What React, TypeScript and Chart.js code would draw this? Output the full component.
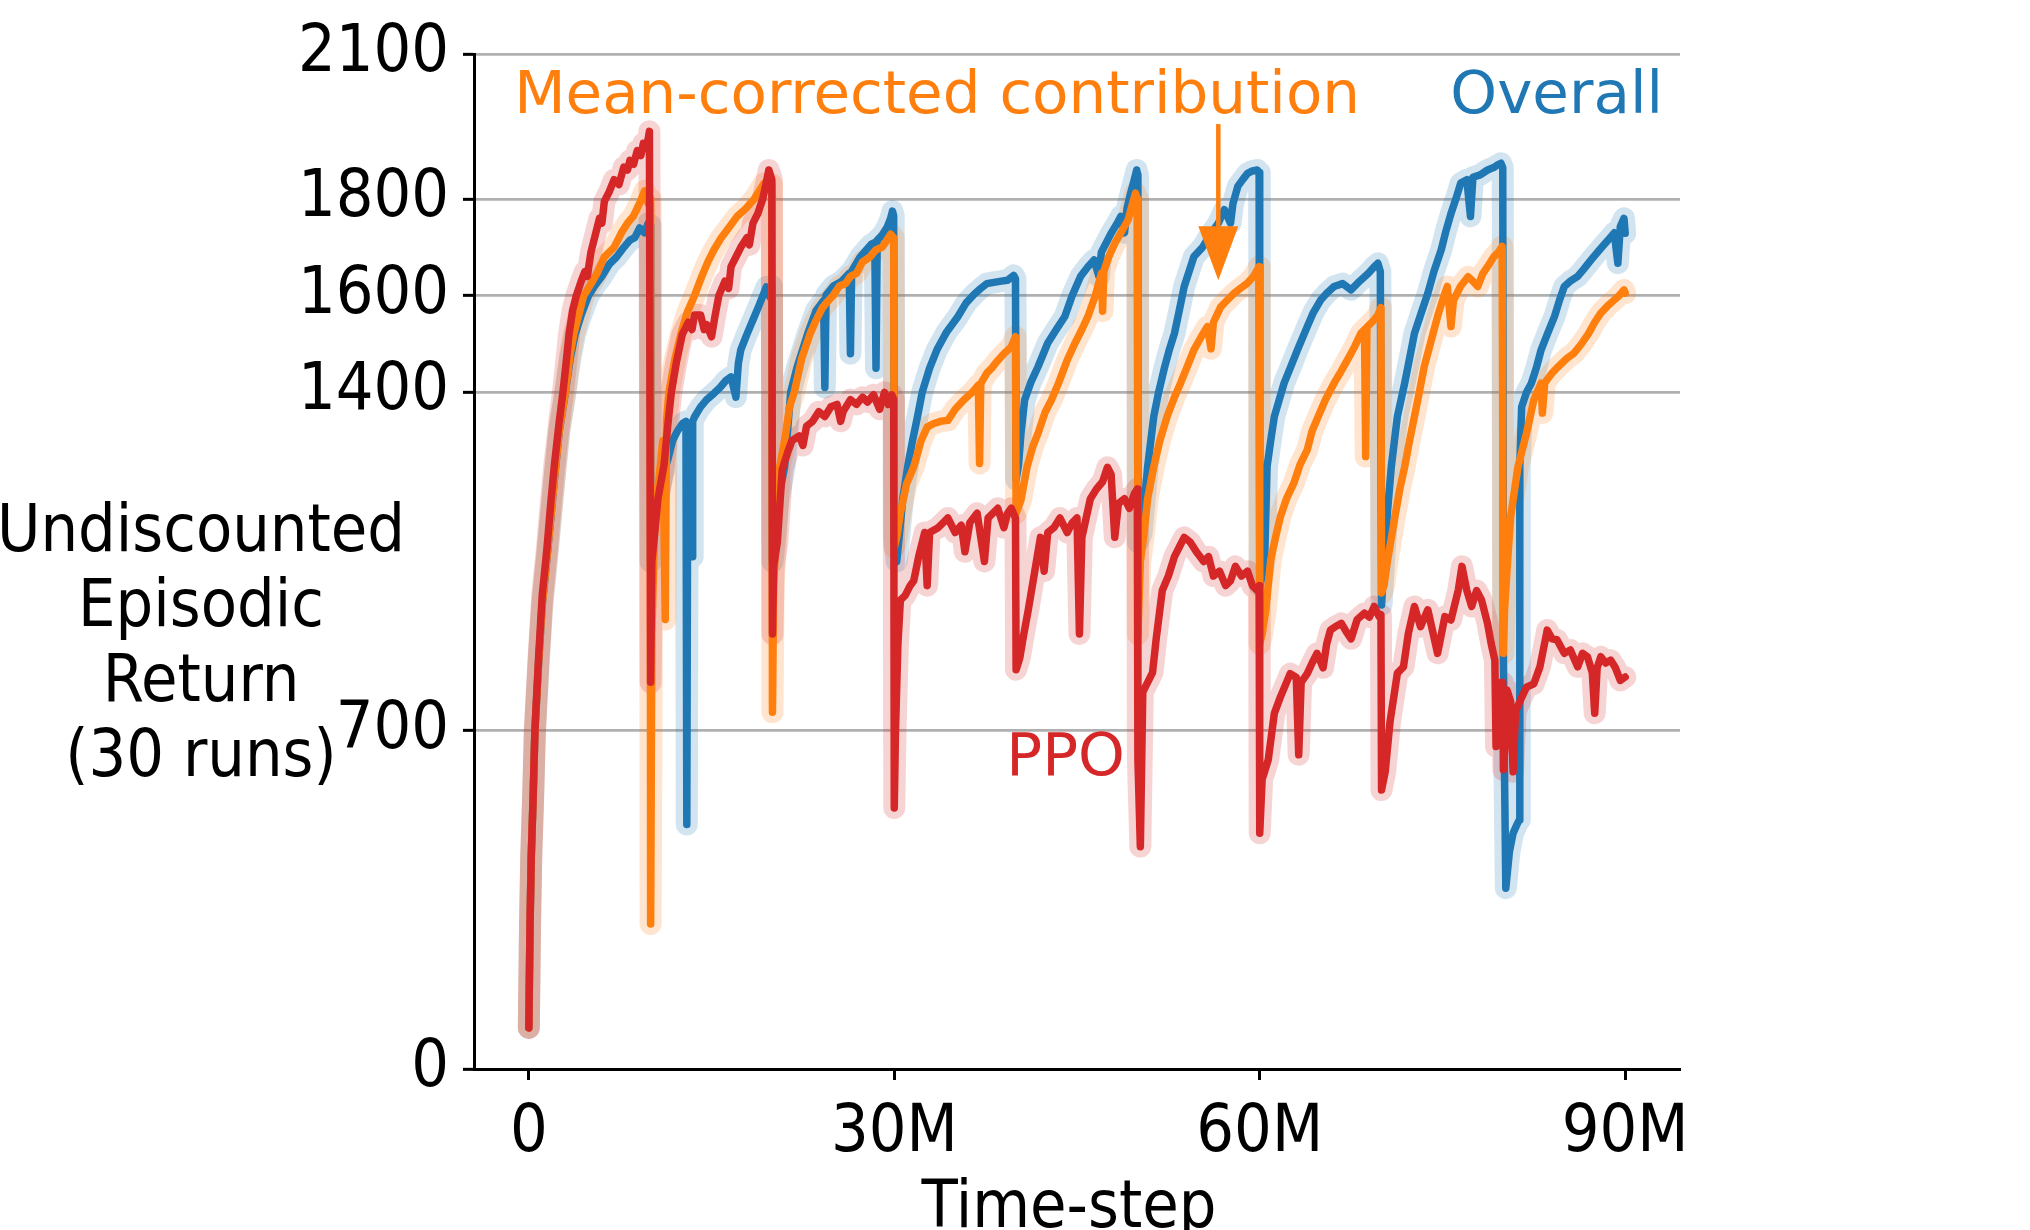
import { useEffect, useRef } from 'react'
import Chart from 'chart.js/auto'

// [time-step in millions, undiscounted episodic return]
const overallReturn: [number, number][] = [
  [0,85],[0.1,300],[0.2,440],[0.35,560],[0.5,700],[0.8,840],[1.1,960],[1.5,1060],[2.1,1220],[2.5,1320],[3.0,1400],[3.4,1470],[3.8,1520],[4.3,1560],[4.9,1600],[5.4,1620],[6.0,1640],[6.6,1665],[7.2,1680],[7.8,1700],[8.3,1715],[8.7,1720],[9.1,1740],[9.5,1730],[9.8,1750],[9.95,1745],
  [10.0,1050],[10.3,1120],[10.6,1180],[11.0,1230],[11.4,1260],[11.8,1300],[12.2,1320],[12.6,1335],[12.9,1340],[12.97,506],[13.05,1330],[13.35,1320],[13.4,1060],[13.45,1340],[13.6,1349],[14.1,1370],[14.6,1385],[15.2,1398],[15.7,1410],[16.2,1425],[16.6,1432],[17.0,1390],[17.2,1460],[17.4,1488],[17.9,1520],[18.5,1556],[18.9,1580],[19.5,1618],[19.8,1597],[19.95,1620],
  [20.0,1050],[20.2,1100],[20.5,1180],[21.0,1246],[21.5,1401],[22.0,1450],[22.9,1522],[23.6,1570],[24.2,1590],[24.3,1410],[24.4,1601],[25.0,1620],[25.7,1630],[26.3,1646],[26.4,1480],[26.5,1650],[27.2,1680],[28.1,1706],[28.4,1710],[28.5,1450],[28.6,1715],[29.0,1725],[29.4,1741],[29.7,1760],[29.85,1775],[29.95,1765],
  [30.0,1100],[30.2,1050],[30.4,1100],[30.7,1180],[31.1,1246],[31.5,1300],[31.9,1349],[32.3,1401],[32.9,1450],[33.5,1488],[34.3,1525],[35.2,1556],[35.9,1585],[36.6,1604],[37.1,1615],[37.6,1625],[38.3,1628],[38.8,1630],[39.3,1632],[39.8,1642],[39.95,1635],
  [40.0,1220],[40.2,1250],[40.4,1315],[40.7,1384],[41.2,1420],[41.8,1453],[42.6,1502],[43.3,1530],[44.0,1557],[44.6,1600],[45.3,1640],[45.9,1660],[46.4,1674],[46.8,1640],[47.0,1690],[47.8,1729],[48.3,1750],[48.6,1764],[48.9,1730],[49.1,1780],[49.4,1812],[49.7,1840],[49.9,1860],[49.97,1850],
  [50.0,1090],[50.3,1108],[50.8,1246],[51.3,1350],[51.7,1400],[52.2,1453],[52.6,1490],[53.0,1522],[53.4,1570],[53.8,1619],[54.2,1650],[54.6,1681],[55.3,1700],[56.0,1729],[56.6,1750],[57.1,1778],[57.6,1750],[57.8,1790],[58.2,1826],[58.6,1840],[59.0,1853],[59.4,1858],[59.8,1860],[59.95,1855],
  [60.0,1000],[60.2,1020],[60.4,1053],[60.6,1246],[60.9,1300],[61.2,1350],[62.0,1419],[62.5,1450],[63.1,1488],[63.9,1536],[64.4,1565],[65.0,1591],[65.5,1605],[66.1,1619],[66.8,1625],[67.5,1612],[68.2,1630],[68.9,1646],[69.4,1660],[69.7,1667],[69.9,1650],
  [70.0,960],[70.2,1050],[70.5,1157],[70.8,1246],[71.3,1350],[71.9,1419],[72.3,1470],[72.7,1522],[73.2,1560],[73.8,1605],[74.3,1650],[74.9,1695],[75.3,1735],[75.7,1770],[76.1,1800],[76.5,1833],[77.0,1840],[77.3,1764],[77.5,1845],[78.1,1850],[78.7,1860],[79.2,1865],[79.5,1870],[79.8,1874],[79.95,1865],
  [80.0,860],[80.1,600],[80.2,374],[80.5,450],[80.8,488],[81.1,505],[81.3,515],[81.35,1250],[81.5,1370],[81.9,1400],[82.3,1419],[82.7,1450],[83.1,1488],[83.6,1520],[84.2,1557],[84.6,1590],[85.0,1619],[85.5,1630],[86.1,1640],[86.6,1655],[87.2,1674],[87.9,1695],[88.6,1715],[89.1,1730],[89.4,1667],[89.6,1743],[89.9,1760],[90.0,1729],
]

const contributionReturn: [number, number][] = [
  [0,85],[0.1,300],[0.2,440],[0.35,560],[0.5,700],[0.8,840],[1.1,960],[1.5,1060],[2.1,1220],[2.5,1320],[3.0,1400],[3.4,1480],[3.7,1522],[4.1,1560],[4.5,1600],[5.0,1620],[5.6,1646],[6.2,1680],[7.0,1700],[7.6,1730],[8.1,1750],[8.6,1765],[9.2,1797],[9.5,1817],[9.8,1790],[9.95,1800],
  [10.0,300],[10.1,900],[10.3,1100],[10.6,1200],[11.0,1300],[11.2,930],[11.3,1340],[11.5,1400],[12.0,1470],[12.5,1522],[13.0,1565],[13.6,1600],[14.2,1640],[14.7,1670],[15.2,1695],[15.8,1720],[16.4,1740],[17.1,1764],[17.8,1780],[18.5,1800],[19.0,1820],[19.3,1832],[19.7,1820],[19.95,1830],
  [20.0,738],[20.1,1000],[20.3,1109],[20.6,1247],[21.0,1300],[21.4,1370],[21.8,1401],[22.4,1470],[23.1,1522],[23.6,1550],[24.1,1575],[24.6,1590],[25.0,1601],[25.5,1620],[26.0,1625],[26.4,1640],[26.9,1646],[27.4,1670],[28.0,1680],[28.5,1695],[29.0,1700],[29.4,1715],[29.7,1727],[29.95,1720],
  [30.0,1080],[30.2,1100],[30.5,1150],[31.0,1210],[31.6,1246],[32.2,1300],[32.7,1328],[33.2,1335],[33.8,1340],[34.4,1342],[35.0,1365],[35.7,1384],[36.4,1400],[36.9,1415],[37.0,1253],[37.1,1418],[37.6,1440],[38.0,1450],[38.5,1466],[39.0,1480],[39.6,1494],[39.95,1515],
  [40.0,1150],[40.4,1177],[40.9,1246],[41.4,1290],[41.8,1315],[42.4,1360],[42.9,1384],[43.5,1420],[44.2,1467],[44.8,1500],[45.4,1530],[45.9,1557],[46.5,1600],[47.0,1646],[47.1,1568],[47.2,1650],[47.6,1680],[48.1,1708],[48.6,1730],[49.2,1757],[49.5,1785],[49.8,1812],[49.95,1800],
  [50.0,900],[50.2,1050],[50.5,1108],[50.8,1180],[51.3,1246],[51.8,1300],[52.4,1350],[53.0,1390],[53.5,1419],[54.0,1450],[54.6,1488],[55.2,1515],[55.7,1536],[56.0,1490],[56.2,1545],[56.8,1577],[57.3,1590],[57.9,1605],[58.4,1615],[59.0,1626],[59.5,1640],[59.95,1660],
  [60.0,880],[60.2,900],[60.5,950],[60.9,1053],[61.3,1100],[61.7,1143],[62.2,1180],[62.8,1212],[63.3,1250],[63.9,1281],[64.3,1320],[64.8,1350],[65.4,1385],[66.1,1419],[66.6,1440],[67.2,1467],[67.8,1495],[68.3,1522],[68.6,1530],[68.7,1267],[68.8,1535],[69.4,1550],[69.7,1560],[69.95,1575],
  [70.0,985],[70.2,1000],[70.5,1053],[71.1,1143],[71.5,1200],[71.9,1246],[72.3,1300],[72.7,1350],[73.1,1400],[73.5,1453],[74.0,1500],[74.6,1557],[75.0,1590],[75.4,1619],[75.7,1536],[75.9,1590],[76.5,1620],[77.1,1639],[77.5,1630],[77.9,1619],[78.3,1645],[78.7,1660],[79.2,1680],[79.6,1690],[79.9,1702],
  [80.0,860],[80.1,950],[80.35,1053],[80.6,1143],[81.2,1246],[81.9,1315],[82.5,1384],[83.1,1419],[83.2,1357],[83.4,1420],[84.0,1440],[84.5,1453],[85.2,1470],[85.8,1481],[86.4,1500],[87.0,1522],[87.5,1545],[88.0,1564],[88.6,1580],[89.1,1591],[89.5,1600],[89.9,1612],[90.0,1605],
]

const ppoReturn: [number, number][] = [
  [0,85],[0.1,300],[0.2,440],[0.35,560],[0.5,700],[0.8,850],[1.1,980],[1.5,1080],[1.8,1170],[2.1,1250],[2.5,1340],[2.8,1400],[3.1,1470],[3.3,1520],[3.6,1570],[3.9,1600],[4.3,1630],[4.6,1650],[4.8,1640],[5.1,1690],[5.5,1730],[5.8,1760],[6.0,1750],[6.2,1795],[6.6,1815],[7.0,1840],[7.4,1830],[7.8,1866],[8.1,1860],[8.3,1880],[8.6,1872],[8.9,1900],[9.2,1890],[9.4,1915],[9.6,1905],[9.8,1925],[9.9,1940],
  [10.0,800],[10.1,1050],[10.3,1100],[10.6,1180],[11.1,1250],[11.4,1330],[11.7,1400],[12.1,1460],[12.6,1520],[13.1,1545],[13.4,1530],[13.6,1560],[14.1,1560],[14.4,1530],[14.6,1540],[15.0,1515],[15.3,1560],[15.6,1600],[16.1,1630],[16.4,1615],[16.6,1660],[17.0,1680],[17.4,1700],[17.9,1720],[18.1,1705],[18.4,1750],[18.8,1770],[19.2,1800],[19.5,1835],[19.7,1860],[19.95,1840],
  [20.0,900],[20.1,1040],[20.4,1090],[20.8,1240],[21.3,1280],[21.6,1300],[22.2,1310],[22.5,1290],[22.8,1330],[23.3,1340],[23.8,1360],[24.3,1350],[24.8,1370],[25.3,1375],[25.6,1340],[25.8,1360],[26.4,1385],[26.9,1375],[27.4,1390],[27.8,1380],[28.3,1395],[28.8,1365],[29.2,1400],[29.5,1375],[29.8,1395],[29.95,1385],
  [30.0,540],[30.1,700],[30.3,880],[30.5,970],[30.9,980],[31.3,1000],[31.6,1010],[32.0,1060],[32.5,1110],[32.7,1000],[32.9,1110],[33.6,1120],[34.0,1130],[34.4,1140],[35.0,1110],[35.5,1125],[35.8,1070],[36.2,1130],[36.8,1150],[37.1,1100],[37.4,1050],[37.7,1140],[38.1,1150],[38.5,1160],[39.0,1120],[39.3,1150],[39.6,1160],[39.95,1140],
  [40.0,826],[40.3,850],[40.6,895],[41.0,950],[41.4,1010],[42.0,1100],[42.3,1030],[42.6,1110],[43.1,1120],[43.6,1140],[44.2,1110],[44.6,1130],[45.0,1140],[45.2,900],[45.4,1100],[46.1,1180],[46.6,1200],[47.1,1215],[47.5,1245],[47.8,1230],[48.1,1100],[48.4,1170],[48.9,1180],[49.3,1160],[49.7,1190],[49.95,1200],
  [50.0,640],[50.2,460],[50.4,780],[50.8,800],[51.2,820],[51.5,890],[52.0,990],[52.5,1020],[53.0,1060],[53.4,1080],[53.8,1100],[54.3,1090],[54.8,1070],[55.4,1050],[55.8,1060],[56.2,1020],[56.7,1030],[57.2,1000],[57.6,1010],[58.0,1040],[58.5,1020],[59.0,1030],[59.4,1000],[59.8,990],[59.95,1000],
  [60.0,488],[60.2,600],[60.4,615],[60.7,640],[61.2,736],[61.7,770],[62.2,800],[62.5,818],[63.0,810],[63.2,650],[63.4,800],[63.9,818],[64.3,840],[64.7,860],[65.2,830],[65.5,880],[65.8,908],[66.2,915],[66.7,922],[67.1,905],[67.5,890],[68.0,930],[68.6,943],[69.0,935],[69.4,957],[69.8,936],[69.95,940],
  [70.0,577],[70.3,615],[70.7,719],[71.3,819],[71.8,832],[72.2,901],[72.7,957],[73.2,915],[73.8,950],[74.2,905],[74.6,860],[75.2,936],[75.7,929],[76.3,991],[76.6,1040],[77.0,990],[77.4,957],[77.8,990],[78.2,971],[78.7,922],[79.0,880],[79.3,846],[79.4,667],[79.6,800],[79.8,784],[79.95,800],
  [80.0,619],[80.2,700],[80.3,784],[80.6,760],[80.8,615],[81.0,740],[81.4,763],[81.9,790],[82.5,797],[83.0,832],[83.6,908],[84.0,890],[84.4,888],[85.0,860],[85.5,867],[86.1,832],[86.5,860],[86.9,853],[87.3,820],[87.5,736],[87.7,830],[88.0,853],[88.4,840],[88.8,846],[89.2,830],[89.6,804],[90.0,811],
]

const xTicks = [0, 30, 60, 90]
const xTickLabels = ['0', '30M', '60M', '90M']
const yTicks = [0, 700, 1400, 1600, 1800, 2100]
const yLabelLines = ['Undiscounted', 'Episodic', 'Return', '(30 runs)']

const W = 2030
const H = 1230
const BLUE = '#1f77b4'
const ORANGE = '#ff7f0e'
const RED = '#d62728'
const CONDENSED = '"DejaVu Sans Condensed", "DejaVu Sans", sans-serif'
const REGULAR = '"DejaVu Sans", sans-serif'

const toXY = (pts: [number, number][]) => pts.map(([x, y]) => ({ x, y }))

const line = (label: string, pts: [number, number][], color: string, order: number) => ({
  label, data: toXY(pts), borderColor: color, borderWidth: 7.5, pointRadius: 0,
  tension: 0, fill: false, borderJoinStyle: 'round', borderCapStyle: 'round', order,
})
const band = (pts: [number, number][], color: string, order: number) => ({
  label: 'band', data: toXY(pts), borderColor: color, borderWidth: 22, pointRadius: 0,
  tension: 0, fill: false, borderJoinStyle: 'round', borderCapStyle: 'round', order,
})

const textPlugin = {
  id: 'annotations',
  afterDatasetsDraw(chart: any) {
    const { ctx, scales: { x, y } } = chart
    ctx.save()
    ctx.font = `59.5px ${REGULAR}`
    ctx.textBaseline = 'alphabetic'
    ctx.textAlign = 'left'
    ctx.fillStyle = ORANGE
    ctx.fillText('Mean-corrected contribution', x.getPixelForValue(-1.2), y.getPixelForValue(1978))
    ctx.textAlign = 'right'
    ctx.fillStyle = BLUE
    ctx.fillText('Overall', x.getPixelForValue(93.1), y.getPixelForValue(1978))
    ctx.textAlign = 'left'
    ctx.fillStyle = RED
    ctx.fillText('PPO', x.getPixelForValue(39.2), y.getPixelForValue(608))

    // arrow pointing at the contribution curve
    const ax = x.getPixelForValue(56.6)
    const tail = y.getPixelForValue(1955)
    const tip = y.getPixelForValue(1632)
    ctx.strokeStyle = ORANGE
    ctx.fillStyle = ORANGE
    ctx.lineWidth = 4.5
    ctx.beginPath()
    ctx.moveTo(ax, tail)
    ctx.lineTo(ax, tip - 40)
    ctx.stroke()
    ctx.beginPath()
    ctx.moveTo(ax - 20, tip - 54)
    ctx.lineTo(ax + 20, tip - 54)
    ctx.lineTo(ax, tip)
    ctx.closePath()
    ctx.fill()
    ctx.restore()
  },
  afterDraw(chart: any) {
    const { ctx } = chart
    ctx.save()
    ctx.font = `66px ${CONDENSED}`
    ctx.fillStyle = '#000'
    ctx.textAlign = 'center'
    ctx.textBaseline = 'alphabetic'
    yLabelLines.forEach((t, i) => ctx.fillText(t, 201, 551 + i * 75))
    ctx.fillText('Time-step', (chart.chartArea.left + chart.chartArea.right) / 2 - 8, 1227)
    ctx.restore()
  },
}

export default function App() {
  const ref = useRef<HTMLCanvasElement | null>(null)
  useEffect(() => {
    document.body.style.margin = '0'
    document.body.style.overflow = 'hidden'
    if (!ref.current) return
    const chart = new Chart(ref.current, {
      type: 'line',
      data: {
        datasets: [
          line('PPO', ppoReturn, RED, 0),
          line('Mean-corrected contribution', contributionReturn, ORANGE, 1),
          line('Overall', overallReturn, BLUE, 2),
          band(ppoReturn, 'rgba(214,39,40,0.2)', 3),
          band(contributionReturn, 'rgba(255,127,14,0.2)', 4),
          band(overallReturn, 'rgba(31,119,180,0.2)', 5),
        ] as any,
      },
      options: {
        animation: false,
        responsive: true,
        maintainAspectRatio: false,
        devicePixelRatio: 1,
        layout: { padding: { left: 0, right: 350, top: 54, bottom: 0 } },
        plugins: { legend: { display: false }, tooltip: { enabled: false } },
        scales: {
          x: {
            type: 'linear', min: -4.5, max: 94.5,
            afterBuildTicks: (s: any) => { s.ticks = xTicks.map(v => ({ value: v })) },
            afterFit: (s: any) => { s.height = 161 },
            ticks: {
              autoSkip: false, maxRotation: 0, padding: 14, color: '#000',
              font: { family: CONDENSED, size: 66 },
              callback: (v: any) => xTickLabels[xTicks.indexOf(Number(v))] ?? '',
            },
            grid: { drawOnChartArea: false, drawTicks: true, tickLength: 11, tickWidth: 3, tickColor: '#000' },
            border: { display: true, color: '#000', width: 3 },
          },
          y: {
            min: 0, max: 2100,
            afterBuildTicks: (s: any) => { s.ticks = yTicks.map(v => ({ value: v })) },
            afterFit: (s: any) => { s.width = 474 },
            ticks: {
              autoSkip: false, padding: 14, color: '#000',
              font: { family: CONDENSED, size: 66 },
              callback: (v: any) => String(v),
            },
            grid: {
              color: (c: any) => (c.tick && c.tick.value === 0 ? 'rgba(0,0,0,0)' : '#b0b0b0'),
              lineWidth: 2.7, drawTicks: true, tickLength: 11, tickWidth: 3, tickColor: '#000',
            },
            border: { display: true, color: '#000', width: 3 },
          },
        },
      },
      plugins: [textPlugin],
    })
    return () => chart.destroy()
  }, [])
  return (
    <div style={{ width: W, height: H, position: 'relative', background: '#fff' }}>
      <canvas ref={ref} />
    </div>
  )
}
